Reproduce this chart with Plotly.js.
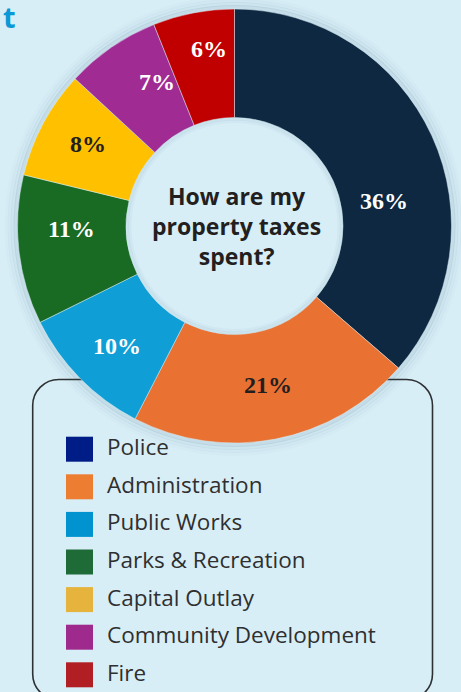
<!DOCTYPE html>
<html>
<head>
<meta charset="utf-8">
<script src="https://cdn.plot.ly/plotly-3.0.1.min.js"></script>
<style>
  html, body { margin: 0; padding: 0; background: #d8eef7; }
  #chart { width: 461px; height: 692px; }
</style>
</head>
<body>
<div id="chart"></div>
<script>
// ---- data ----
const categories = ["Police", "Administration", "Public Works", "Parks & Recreation", "Capital Outlay", "Community Development", "Fire"];
const shares = [36, 21, 10, 11, 8, 7, 6];
const sliceColors = ["#0e2841", "#e97132", "#0f9ed5", "#196b24", "#ffc000", "#a02b93", "#c00000"];
const legendColors = ["#001c87", "#ed7d31", "#0093d0", "#1e6b37", "#e6b43c", "#9e2a8e", "#b11f24"];
const labelColors = ["#ffffff", "#231f20", "#ffffff", "#ffffff", "#231f20", "#ffffff", "#ffffff"];
const centerTitle = "How are my<br>property taxes<br>spent?";

// ---- layout constants (pixels) ----
const W = 461, H = 692;
const BG = "#d8eef7";
const cx = 234.5, cy = 226, R = 217, HOLE = 0.5;
const px = x => x / W;
const py = y => 1 - y / H;

// label placement (pixel centres of the percentage labels)
const labelPos = [[383.5, 201], [267.7, 385], [117.3, 346], [71, 229], [88.3, 144.3], [157.3, 81.7], [209.3, 49.3]];

const pie = {
  type: "pie",
  labels: categories,
  values: shares,
  sort: false,
  direction: "clockwise",
  rotation: 0,
  hole: HOLE,
  textinfo: "none",
  showlegend: false,
  hoverinfo: "label+percent",
  marker: { colors: sliceColors, line: { color: "rgba(216,238,247,0.6)", width: 0.8 } },
  domain: { x: [px(cx - R), px(cx + R)], y: [py(cy + R), py(cy - R)] }
};

const ring = (r, w, color, layer) => ({ type: "circle", xref: "paper", yref: "paper", layer: layer,
  x0: px(cx - r), x1: px(cx + r), y0: py(cy + r), y1: py(cy - r),
  fillcolor: "rgba(0,0,0,0)", line: { width: w, color: color } });

const shapes = [];
// soft shadow around the ring (stroked rings only, hole stays clear)
[[2, 4, 0.10], [5, 4, 0.06], [8, 4, 0.035], [11, 4, 0.02]].forEach(([d, w, a]) => {
  shapes.push(ring(R + d, w, "rgba(30,80,110," + a + ")", "below"));
});
// faint inner shadow inside the hole
const rh = R * HOLE;
[[1.5, 3, 0.07], [4, 3, 0.035]].forEach(([d, w, a]) => {
  shapes.push(ring(rh - d, w, "rgba(30,80,110," + a + ")", "above"));
});

// legend frame (rounded rectangle)
(function () {
  const L = 32.7, Rr = 432.5, T = 379.5, B = 700, rad = 26, k = 0.552 * rad;
  const p = (x, y) => px(x) + "," + py(y);
  const path = "M" + p(L, B - rad) +
    " L" + p(L, T + rad) +
    " C" + p(L, T + rad - k) + " " + p(L + rad - k, T) + " " + p(L + rad, T) +
    " L" + p(Rr - rad, T) +
    " C" + p(Rr - rad + k, T) + " " + p(Rr, T + rad - k) + " " + p(Rr, T + rad) +
    " L" + p(Rr, B - rad) +
    " C" + p(Rr, B - rad + k) + " " + p(Rr - rad + k, B) + " " + p(Rr - rad, B) +
    " L" + p(L + rad, B) +
    " C" + p(L + rad - k, B) + " " + p(L, B - rad + k) + " " + p(L, B - rad) + " Z";
  shapes.unshift({ type: "path", xref: "paper", yref: "paper", layer: "below", path: path,
    fillcolor: "rgba(0,0,0,0)", line: { color: "#2e3133", width: 1.6 } });
})();

const annotations = [];
// legend entries
const legTop = 436.7, legStep = 37.6, sqW = 27, sqH = 25, sqX = 66, txtX = 104.5;
categories.forEach((c, i) => {
  const top = legTop + i * legStep;
  shapes.push({ type: "rect", xref: "paper", yref: "paper", layer: "below",
    x0: px(sqX), x1: px(sqX + sqW), y0: py(top + sqH), y1: py(top),
    fillcolor: legendColors[i], line: { width: 0 } });
  annotations.push({ xref: "paper", yref: "paper", x: px(txtX), y: py(top + sqH / 2 - 2.5),
    xanchor: "left", yanchor: "middle", showarrow: false, text: c,
    font: { family: "Open Sans", size: 22.5, color: "#2f2f2f" } });
});

// percentage labels
shares.forEach((v, i) => {
  annotations.push({ xref: "paper", yref: "paper", x: px(labelPos[i][0]), y: py(labelPos[i][1]),
    xanchor: "center", yanchor: "middle", showarrow: false, text: "<b>" + v + "%</b>",
    font: { family: "Liberation Serif", size: 24, color: labelColors[i] } });
});

// centre title
annotations.push({ xref: "paper", yref: "paper", x: px(236.5), y: py(226), xanchor: "center", yanchor: "middle",
  showarrow: false, text: "<b>" + centerTitle + "</b>",
  font: { family: "Open Sans", size: 23, color: "#231f20" } });

// heading fragment at the top-left corner
annotations.push({ xref: "paper", yref: "paper", x: px(2), y: py(17), xanchor: "left", yanchor: "middle",
  showarrow: false, borderpad: 0, text: "<b>t</b>", font: { family: "Open Sans", size: 29, color: "#0b98d6" } });

const layout = {
  width: W, height: H,
  margin: { l: 0, r: 0, t: 0, b: 0, pad: 0 },
  paper_bgcolor: BG, plot_bgcolor: BG,
  showlegend: false,
  shapes: shapes,
  annotations: annotations
};

Plotly.newPlot("chart", [pie], layout, { displayModeBar: false, staticPlot: true });
</script>
</body>
</html>
